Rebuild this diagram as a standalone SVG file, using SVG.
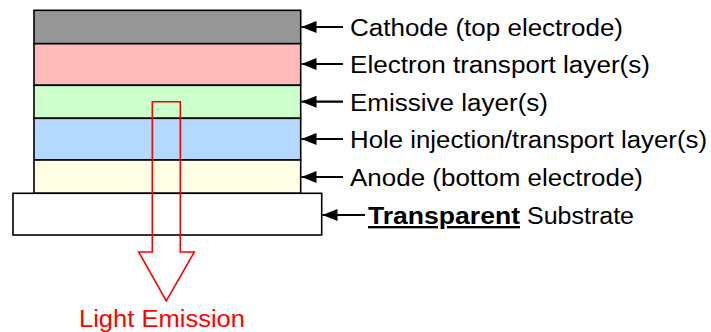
<svg xmlns="http://www.w3.org/2000/svg" width="711" height="332" viewBox="0 0 711 332">
<defs>
<style>
.layer{stroke:#000;stroke-width:1.6}
.lbl{font-family:"Liberation Sans",Arial,sans-serif;font-size:23.5px;fill:#000}
.conn{stroke:#000;stroke-width:2.2;fill:none;marker-end:url(#ah)}
</style>
<marker id="ah" markerUnits="userSpaceOnUse" markerWidth="16" markerHeight="14" viewBox="0 0 16 14" refX="15" refY="7" orient="auto">
<path d="M0,1 L15,7 L0,13 z" fill="#000"/>
</marker>
</defs>
<rect width="711" height="332" fill="#fff"/>
<g id="cathode"><rect class="layer" x="34" y="10.3" width="266.7" height="33.4" fill="#969696"/></g>
<g id="etl"><rect class="layer" x="34" y="43.7" width="266.7" height="41.6" fill="#ffbbbb"/></g>
<g id="eml"><rect class="layer" x="34" y="85.3" width="266.7" height="33" fill="#ccffcc"/></g>
<g id="htl"><rect class="layer" x="34" y="118.3" width="266.7" height="41.7" fill="#b3d9ff"/></g>
<g id="anode"><rect class="layer" x="34" y="160" width="266.7" height="33.3" fill="#ffffe6"/></g>
<g id="substrate"><rect class="layer" x="13" y="193.3" width="308.7" height="41.7" fill="#fff"/></g>
<g id="light-emission">
<polygon points="152.3,101.7 180.3,101.7 180.3,252 194.3,252 166.3,301 138.7,252 152.3,252" fill="none" stroke="#ff0000" stroke-width="1.6"/>
<text x="79" y="327" font-family="Liberation Sans,Arial,sans-serif" font-size="23.5" fill="#ff0000" textLength="166" lengthAdjust="spacingAndGlyphs">Light Emission</text>
</g>
<g id="connectors">
<line class="conn" x1="343" y1="27" x2="301.5" y2="27"/>
<line class="conn" x1="343" y1="64" x2="301.5" y2="64"/>
<line class="conn" x1="343" y1="101.7" x2="301.5" y2="101.7"/>
<line class="conn" x1="343" y1="139" x2="301.5" y2="139"/>
<line class="conn" x1="343" y1="177" x2="301.5" y2="177"/>
<line class="conn" x1="365" y1="215" x2="322.5" y2="215"/>
</g>
<g id="labels">
<text class="lbl" x="350" y="36" textLength="273" lengthAdjust="spacingAndGlyphs">Cathode (top electrode)</text>
<text class="lbl" x="350" y="73" textLength="300" lengthAdjust="spacingAndGlyphs">Electron transport layer(s)</text>
<text class="lbl" x="350" y="110.5" textLength="198" lengthAdjust="spacingAndGlyphs">Emissive layer(s)</text>
<text class="lbl" x="350" y="148" textLength="357" lengthAdjust="spacingAndGlyphs">Hole injection/transport layer(s)</text>
<text class="lbl" x="350" y="186" textLength="293" lengthAdjust="spacingAndGlyphs">Anode (bottom electrode)</text>
<text class="lbl" x="368" y="224" font-weight="bold" text-decoration="underline" textLength="152" lengthAdjust="spacingAndGlyphs">Transparent</text>
<text class="lbl" x="527" y="224" textLength="107" lengthAdjust="spacingAndGlyphs">Substrate</text>
</g>
</svg>
